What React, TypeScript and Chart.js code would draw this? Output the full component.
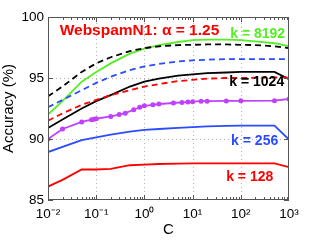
import React, { useEffect, useRef } from 'react';
import { Chart, registerables } from 'chart.js';

Chart.register(...registerables);

// ---- data ----
const C_VALUES = [0.01, 0.02, 0.05, 0.1, 0.2, 0.5, 1, 2, 5, 10, 20, 50, 100, 200, 500, 1000];
const ACC_K128 = [86.1, 86.65, 87.5, 87.5, 87.55, 87.85, 87.9, 87.95, 87.98, 88.0, 88.0, 88.0, 88.0, 88.0, 88.0, 87.7];
const ACC_K256 = [88.93, 89.35, 89.9, 90.13, 90.35, 90.6, 90.75, 90.82, 90.92, 90.98, 91.03, 91.08, 91.1, 91.1, 91.1, 89.95];
const ACC_K1024 = [90.9, 91.6, 92.5, 93.1, 93.6, 94.3, 94.7, 94.95, 95.2, 95.3, 95.4, 95.45, 95.5, 95.5, 95.5, 94.9];
const ACC_K8192 = [92.0, 93.1, 94.7, 95.5, 96.2, 97.0, 97.4, 97.7, 97.95, 98.1, 98.15, 98.15, 98.1, 98.0, 97.85, 97.6];
const ACC_K128_DASH = [91.5, 92.1, 92.8, 93.2, 93.6, 94.0, 94.3, 94.5, 94.75, 94.85, 94.95, 95.0, 95.0, 95.02, 95.05, 95.05];
const ACC_K256_DASH = [92.6, 93.2, 94.0, 94.6, 95.1, 95.65, 95.95, 96.15, 96.35, 96.45, 96.5, 96.55, 96.55, 96.55, 96.55, 96.55];
const ACC_K1024_DASH = [93.5, 94.3, 95.5, 96.2, 96.7, 97.2, 97.45, 97.6, 97.7, 97.72, 97.75, 97.75, 97.72, 97.7, 97.6, 97.45];

const C_K512 = [0.01, 0.02, 0.05, 0.08, 0.09, 0.1, 0.2, 0.3, 0.4, 0.6, 0.8, 1, 1.5, 2, 4, 6, 8, 10, 15, 20, 50, 100, 500, 1000];
const ACC_K512 = [90.0, 90.82, 91.4, 91.58, 91.62, 91.66, 91.85, 92.0, 92.12, 92.4, 92.6, 92.72, 92.8, 92.87, 92.95, 93.0, 93.03, 93.06, 93.1, 93.1, 93.12, 93.13, 93.14, 93.28];

const X_TICKS = [0.01, 0.1, 1, 10, 100, 1000];
const X_TICK_LABELS = ['10⁻²', '10⁻¹', '10⁰', '10¹', '10²', '10³'];
const Y_TICKS = [85, 90, 95, 100];

const TITLE_TEXT = 'WebspamN1: α = 1.25';
const LABELS = [
  { text: 'k = 8192', color: '#55ee22', c: 830, acc: 98.63 },
  { text: 'k = 1024', color: '#000000', c: 794, acc: 94.7 },
  { text: 'k = 256', color: '#2a4bff', c: 597, acc: 89.86 },
  { text: 'k = 128', color: '#ff0000', c: 471, acc: 86.9 },
];

const RED = '#ff0000';
const BLUE = '#2a4bff';
const BLACK = '#000000';
const GREEN = '#55ee22';
const PURPLE = '#bf40ff';
const FONT = '"Liberation Sans", Arial, sans-serif';

function pts(xs: number[], ys: number[]) {
  return xs.map((x, i) => ({ x, y: ys[i] }));
}

const framePlugin = {
  id: 'frame',
  beforeDatasetsDraw(chart: any) {
    const { ctx, chartArea: a, scales } = chart;
    const xs = scales.x;
    const ys = scales.y;
    ctx.save();
    ctx.strokeStyle = '#b4b4b4';
    ctx.lineWidth = 1;
    ctx.setLineDash([1, 3]);
    ctx.beginPath();
    X_TICKS.slice(1, -1).forEach((v) => {
      const px = Math.round(xs.getPixelForValue(v)) + 0.5;
      ctx.moveTo(px, a.bottom);
      ctx.lineTo(px, a.top);
    });
    Y_TICKS.slice(1, -1).forEach((v) => {
      const py = Math.round(ys.getPixelForValue(v)) + 0.5;
      ctx.moveTo(a.left, py);
      ctx.lineTo(a.right, py);
    });
    ctx.stroke();
    ctx.restore();
  },
  afterDatasetsDraw(chart: any) {
    const { ctx, chartArea: a, scales } = chart;
    const xs = scales.x;
    const ys = scales.y;
    ctx.save();
    ctx.strokeStyle = '#555555';
    ctx.lineWidth = 1;
    ctx.strokeRect(a.left + 0.5, a.top + 0.5, a.right - a.left - 1, a.bottom - a.top - 1);
    ctx.beginPath();
    for (let e = -2; e <= 2; e++) {
      for (let m = 1; m <= 9; m++) {
        const v = m * Math.pow(10, e);
        const px = Math.round(xs.getPixelForValue(v)) + 0.5;
        const len = m === 1 ? 5 : 3;
        ctx.moveTo(px, a.bottom);
        ctx.lineTo(px, a.bottom - len);
        ctx.moveTo(px, a.top);
        ctx.lineTo(px, a.top + len);
      }
    }
    Y_TICKS.forEach((v) => {
      const py = Math.round(ys.getPixelForValue(v)) + 0.5;
      ctx.moveTo(a.left, py);
      ctx.lineTo(a.left + 5, py);
      ctx.moveTo(a.right, py);
      ctx.lineTo(a.right - 5, py);
    });
    ctx.stroke();
    ctx.restore();
  },
  afterDraw(chart: any) {
    const { ctx, scales } = chart;
    const xs = scales.x;
    const ys = scales.y;
    ctx.save();
    ctx.textBaseline = 'middle';
    ctx.font = 'bold 15.5px ' + FONT;
    ctx.fillStyle = RED;
    ctx.textAlign = 'center';
    ctx.fillText(TITLE_TEXT, xs.getPixelForValue(0.79), ys.getPixelForValue(98.88));
    ctx.font = 'bold 14px ' + FONT;
    ctx.textAlign = 'right';
    LABELS.forEach((l) => {
      ctx.fillStyle = l.color;
      ctx.fillText(l.text, xs.getPixelForValue(l.c), ys.getPixelForValue(l.acc));
    });
    ctx.restore();
  },
};

export default function App() {
  const ref = useRef<HTMLCanvasElement | null>(null);
  useEffect(() => {
    if (!ref.current) return;
    const lw = 1.8;
    const chart = new Chart(ref.current, {
      type: 'line',
      data: {
        datasets: [
          { data: pts(C_VALUES, ACC_K1024_DASH), borderColor: BLACK, borderDash: [6, 4], borderWidth: lw, pointRadius: 0 },
          { data: pts(C_VALUES, ACC_K256_DASH), borderColor: BLUE, borderDash: [6, 4], borderWidth: lw, pointRadius: 0 },
          { data: pts(C_VALUES, ACC_K128_DASH), borderColor: RED, borderDash: [6, 4], borderWidth: lw, pointRadius: 0 },
          { data: pts(C_VALUES, ACC_K8192), borderColor: GREEN, borderWidth: lw, pointRadius: 0 },
          { data: pts(C_VALUES, ACC_K1024), borderColor: BLACK, borderWidth: lw, pointRadius: 0 },
          { data: pts(C_K512, ACC_K512), borderColor: PURPLE, backgroundColor: PURPLE, borderWidth: lw, pointRadius: 2.5, pointBackgroundColor: PURPLE, pointBorderColor: PURPLE, pointBorderWidth: 0 },
          { data: pts(C_VALUES, ACC_K256), borderColor: BLUE, borderWidth: lw, pointRadius: 0 },
          { data: pts(C_VALUES, ACC_K128), borderColor: RED, borderWidth: lw, pointRadius: 0 },
        ],
      },
      options: {
        responsive: false,
        animation: false,
        layout: { padding: { top: 17, right: 30, left: 0, bottom: 0 } },
        plugins: { legend: { display: false }, tooltip: { enabled: false } },
        scales: {
          x: {
            type: 'logarithmic',
            min: 0.01,
            max: 1000,
            afterBuildTicks: (s: any) => {
              s.ticks = X_TICKS.map((v) => ({ value: v }));
            },
            afterFit: (s: any) => {
              s.height = 40;
            },
            ticks: {
              autoSkip: false,
              maxRotation: 0,
              padding: 6,
              color: '#000',
              font: { family: FONT, size: 13.5 },
              callback: (_v: any, i: number) => X_TICK_LABELS[i],
            },
            grid: { display: false, drawTicks: false },
            border: { display: false },
            title: {
              display: true,
              text: 'C',
              color: '#000',
              padding: 1,
              font: { family: FONT, size: 15 },
            },
          },
          y: {
            min: 85,
            max: 100,
            afterBuildTicks: (s: any) => {
              s.ticks = Y_TICKS.map((v) => ({ value: v }));
            },
            afterFit: (s: any) => {
              s.width = 48;
            },
            ticks: {
              padding: 4,
              color: '#000',
              font: { family: FONT, size: 13.5 },
            },
            grid: { display: false, drawTicks: false },
            border: { display: false },
            title: {
              display: true,
              text: 'Accuracy (%)',
              color: '#000',
              padding: 0,
              font: { family: FONT, size: 15 },
            },
          },
        },
      },
      plugins: [framePlugin],
    } as any);
    return () => chart.destroy();
  }, []);
  return (
    <div style={{ position: 'absolute', left: 0, top: 0, width: 319, height: 240, background: '#fff' }}>
      <canvas ref={ref} width={319} height={240} />
    </div>
  );
}
